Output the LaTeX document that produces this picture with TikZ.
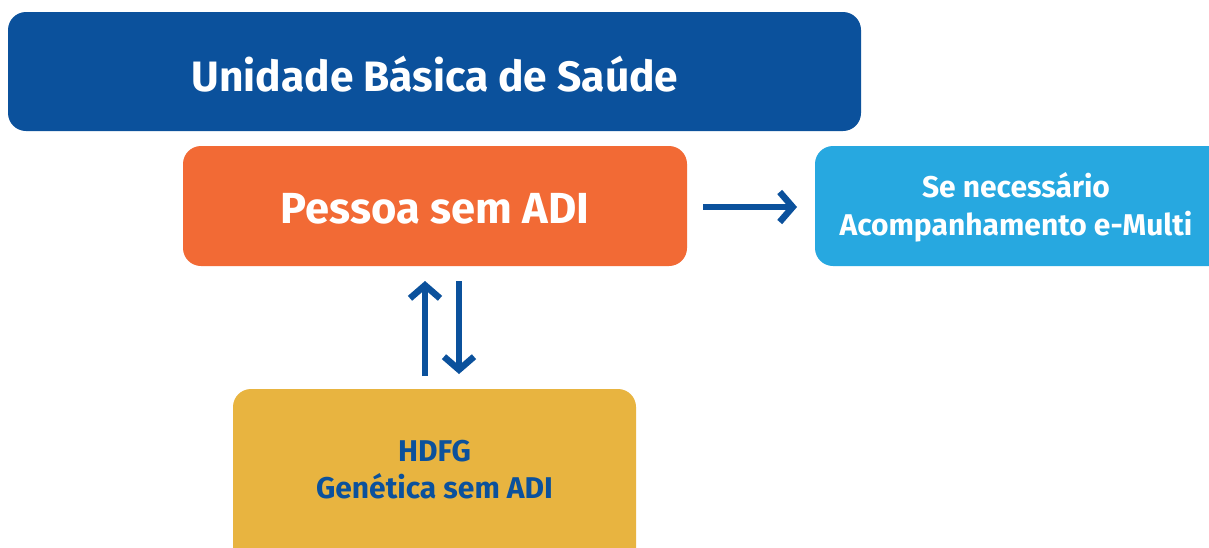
\documentclass[tikz,border=0pt]{standalone}
\usepackage{fontspec}
\setmainfont{Fira Sans}
\usetikzlibrary{arrows.meta}
\definecolor{ubsblue}{HTML}{0B519C}
\definecolor{orangebox}{HTML}{F26A35}
\definecolor{lightblue}{HTML}{27A8E0}
\definecolor{yellowbox}{HTML}{E8B440}
\tikzset{
  box/.style={rounded corners=18pt, inner sep=0pt},
  arr/.style={draw=ubsblue, line width=6.5pt, -{Straight Barb[length=13pt,width=30pt,line width=6.5pt]}},
}
\begin{document}
\begin{tikzpicture}[x=1pt,y=-1pt]
\useasboundingbox (0,0) rectangle (1209,547);
\clip (0,0) rectangle (1209,547);
\fill[white] (0,0) rectangle (1209,547);
\fill[ubsblue, box] (8,12) rectangle (861,131);
\node[text=white, font=\bfseries\fontsize{42.5}{46}\selectfont] (ubs) at (435,74) {Unidade Básica de Saúde};
\fill[orangebox, box] (183,146) rectangle (687,266);
\node[text=white, font=\bfseries\fontsize{43.5}{46}\selectfont] (pessoa) at (435,209) {Pessoa sem ADI};
\fill[lightblue, box] (815,146) rectangle (1240,266);
\node[text=white, font=\bfseries\fontsize{30}{38}\selectfont, align=center] (emulti) at (1016,207) {Se necessário\\Acompanhamento e-Multi};
\fill[yellowbox, box] (233,389) rectangle (636,580);
\node[text=ubsblue, font=\bfseries\fontsize{30}{37}\selectfont, align=center] (hdfg) at (434.5,470) {HDFG\\Genética sem ADI};
\coordinate (a1) at (703,207);
\coordinate (a2) at (797,207);
\coordinate (u1) at (425,376);
\coordinate (u2) at (425,281);
\coordinate (d1) at (459,281);
\coordinate (d2) at (459,374);
\draw[arr] (a1) -- (a2);
\draw[arr] (u1) -- (u2);
\draw[arr] (d1) -- (d2);
\end{tikzpicture}
\end{document}
